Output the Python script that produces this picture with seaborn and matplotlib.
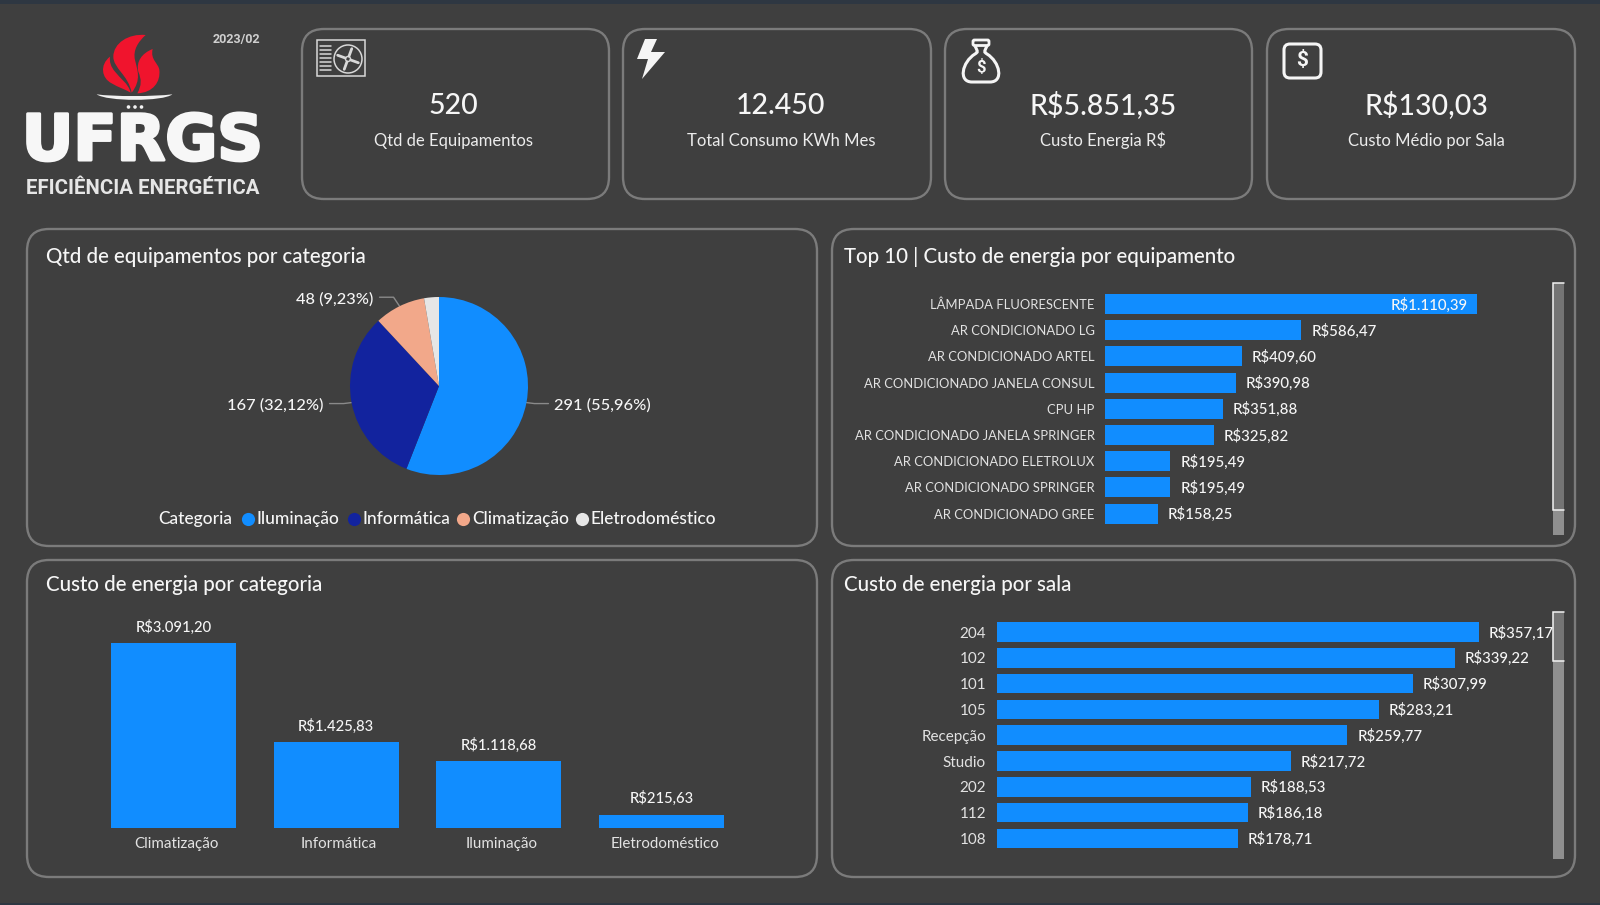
import matplotlib
matplotlib.use("Agg")
import matplotlib.pyplot as plt
import numpy as np
import pandas as pd
import seaborn as sns
import matplotlib.patheffects as pe
from matplotlib.patches import Circle, FancyBboxPatch, PathPatch, Rectangle
from matplotlib.path import Path
from matplotlib.transforms import ScaledTranslation

# dados do painel
kpi_values = ["520", "12.450", "R$5.851,35", "R$130,03"]
kpi_labels = ["Qtd de Equipamentos", "Total Consumo KWh Mes", "Custo Energia R$", "Custo Médio por Sala"]

pie_categories = ["Iluminação", "Informática", "Climatização", "Eletrodoméstico"]
pie_counts = [291, 167, 48, 14]
pie_pct = ["55,96%", "32,12%", "9,23%", "2,69%"]

equip_names = ["LÂMPADA FLUORESCENTE", "AR CONDICIONADO LG", "AR CONDICIONADO ARTEL",
               "AR CONDICIONADO JANELA CONSUL", "CPU HP", "AR CONDICIONADO JANELA SPRINGER",
               "AR CONDICIONADO ELETROLUX", "AR CONDICIONADO SPRINGER", "AR CONDICIONADO GREE"]
equip_cost = [1110.39, 586.47, 409.60, 390.98, 351.88, 325.82, 195.49, 195.49, 158.25]

cat_names = ["Climatização", "Informática", "Iluminação", "Eletrodoméstico"]
cat_cost = [3091.20, 1425.83, 1118.68, 215.63]

room_names = ["204", "102", "101", "105", "Recepção", "Studio", "202", "112", "108"]
room_cost = [357.17, 339.22, 307.99, 283.21, 259.77, 217.72, 188.53, 186.18, 178.71]

BG = "#3f3f3f"
BORDER = "#7b7b7b"
BLUE = "#118dff"
TEXT = "#f6f6f6"
W, H = 1600, 905

sns.set_theme(style="dark")
plt.rcParams["font.family"] = ["Lato", "DejaVu Sans"]


def brl(v):
    s = f"{v:,.2f}".replace(",", "X").replace(".", ",").replace("X", ".")
    return "R$" + s


def axes_px(x0, y0, x1, y1):
    # eixo posicionado em pixels da figura
    a = fig.add_axes([x0 / W, 1 - y1 / H, (x1 - x0) / W, (y1 - y0) / H])
    a.set_facecolor("none")
    for s in a.spines.values():
        s.set_visible(False)
    return a


def card(x0, y0, x1, y1, r=22):
    bg.add_patch(FancyBboxPatch((x0 + r, y0 + r), x1 - x0 - 2 * r, y1 - y0 - 2 * r,
                                boxstyle=f"round,pad={r},rounding_size={r}",
                                fc="none", ec=BORDER, lw=1.7))


def bez(points, fc, ec="none", lw=0, k=3):
    # contorno fechado de curvas cubicas
    verts = [(x / k, y / k) for x, y in points]
    codes = [Path.MOVETO] + [Path.CURVE4] * (len(points) - 1)
    bg.add_patch(PathPatch(Path(verts, codes), fc=fc, ec=ec, lw=lw))


def thumb(x0, y0, x1, y1):
    bg.add_patch(Rectangle((x0, y0), x1 - x0, y1 - y0, fc="#747474", ec="none"))
    bg.plot([x1, x0, x0, x1], [y0, y0, y1, y1], color="#f2f2f2", lw=1.1, solid_joinstyle="miter")


fig = plt.figure(figsize=(W / 100, H / 100), dpi=100, facecolor=BG)
bg = fig.add_axes([0, 0, 1, 1])
bg.set_xlim(0, W)
bg.set_ylim(H, 0)
bg.axis("off")

# faixa do topo
bg.add_patch(Rectangle((0, 0), W, 4, fc="#2e3742", ec="none"))
bg.add_patch(Rectangle((0, 903), W, 2, fc="#2e3742", ec="none"))

# logo
RED = "#f0142d"
bez([(330, 170), (298, 195), (305, 235), (335, 250), (355, 262), (375, 268), (392, 278),
     (385, 250), (360, 235), (345, 215), (332, 200), (328, 185), (330, 170)], RED)
bez([(437, 105), (385, 100), (340, 130), (340, 170), (340, 205), (385, 225), (395, 278),
     (425, 240), (412, 210), (405, 180), (398, 150), (415, 125), (437, 105)], RED)
bez([(458, 147), (425, 160), (408, 185), (415, 215), (425, 240), (425, 255), (412, 280),
     (460, 278), (482, 245), (478, 210), (476, 190), (450, 180), (458, 147)], RED)
bez([(290, 283), (340, 290), (460, 290), (517, 283), (490, 305), (320, 305), (290, 283)], "#f2f2f2")
for cx in (128.5, 135, 141.5):
    bg.add_patch(Circle((cx, 107), 1.8, fc="#f2f2f2", ec="none"))
bg.text(142.5, 143, "UFRGS", color="#f7f7f7", fontsize=45.6, fontweight="bold",
        family=["DejaVu Sans"], ha="center", va="center",
        path_effects=[pe.withStroke(linewidth=2.2, foreground="#f7f7f7")])
bg.text(142.5, 188, "EFICIÊNCIA ENERGÉTICA", color="#e6e6e6", fontsize=14.7, fontweight="bold",
        family=["Roboto", "DejaVu Sans"], ha="center", va="center")
bg.text(236.5, 39, "2023/02", color="#cfcfcf", fontsize=9, fontweight="bold",
        family=["Roboto", "DejaVu Sans"], ha="center", va="center")

# cards de cima
card_x = [(302, 609), (623, 931), (945, 1252), (1267, 1575)]
card_cx = [453, 781, 1103, 1426.5]
for (x0, x1), cx, v, l in zip(card_x, card_cx, kpi_values, kpi_labels):
    card(x0, 29, x1, 199)
    bg.text(cx, 114, v, color=TEXT, fontsize=20.5, ha="center", va="baseline", fontweight="medium")
    bg.text(cx, 146, l, color="#ececec", fontsize=12, ha="center", va="baseline")

# icone ar condicionado
ICON = "#d8d8d8"
bg.add_patch(Rectangle((317, 40.5), 48, 36, fc="none", ec=ICON, lw=1.1))
bg.add_patch(Circle((348, 59), 14, fc="none", ec=ICON, lw=1.1))
bg.add_patch(Circle((348, 59), 2.5, fc="none", ec=ICON, lw=1))
for ang in (20, 110, 200, 290):
    t = np.deg2rad(ang)
    bg.plot([348 + 3 * np.cos(t), 348 + 11 * np.cos(t)], [59 + 3 * np.sin(t), 59 + 11 * np.sin(t)],
            color=ICON, lw=2, solid_capstyle="round")
for yy in (46, 50, 54, 58, 62, 66, 70):
    bg.plot([320, 331], [yy, yy], color=ICON, lw=1.1)
# raio
bg.add_patch(plt.Polygon([(645, 39), (657, 39), (651, 52), (665, 52), (642, 79), (648, 59), (637, 59)],
                         fc="#f5f5f5", ec="none"))
# saco de dinheiro
bg.add_patch(FancyBboxPatch((973, 40), 16, 5.5, boxstyle="round,pad=0,rounding_size=1.5", fc="none",
                            ec="#f5f5f5", lw=2))
bez([(975, 46), (978, 52), (978, 52), (975, 54), (962, 62), (958, 82), (972, 82), (976, 82), (986, 82), (990, 82),
     (1004, 82), (1000, 62), (987, 54), (984, 52), (984, 52), (987, 46)], "none", "#f5f5f5", 2.2, 1)
bg.text(981, 67, "$", color="#f5f5f5", fontsize=12, fontweight="bold", ha="center", va="center",
        family=["Roboto", "DejaVu Sans"])
# cifrao
bg.add_patch(FancyBboxPatch((1284, 44), 37, 34, boxstyle="round,pad=0,rounding_size=6", fc="none",
                            ec="#f5f5f5", lw=2.2))
bg.text(1302.5, 60.5, "$", color="#f5f5f5", fontsize=15, fontweight="bold", ha="center", va="center",
        family=["Roboto", "DejaVu Sans"])

# paineis
card(27, 229, 817, 546)
card(832, 229, 1575, 546)
card(27, 560, 817, 877)
card(832, 560, 1575, 877)
titles = [(46, 257, "Qtd de equipamentos por categoria"), (844, 257, "Top 10 | Custo de energia por equipamento"),
          (46, 585, "Custo de energia por categoria"), (844, 585, "Custo de energia por sala")]
for x, y, t in titles:
    bg.text(x, y, t, color=TEXT, fontsize=14.8, ha="left", va="center", fontweight="medium")

# pizza
pie_colors = [BLUE, "#12239e", "#f2a88a", "#e6e6e6"]
pie_cx, pie_cy, pie_r = 439, 386, 89
ax_pie = axes_px(pie_cx - pie_r, pie_cy - pie_r, pie_cx + pie_r, pie_cy + pie_r)
wedges, _ = ax_pie.pie(pie_counts, colors=pie_colors, startangle=90, counterclock=False, radius=1,
                       wedgeprops=dict(linewidth=0))
ax_pie.set_xlim(-1, 1)
ax_pie.set_ylim(-1, 1)
for w, n, p in zip(wedges[:3], pie_counts, pie_pct):
    t = np.deg2rad((w.theta1 + w.theta2) / 2)
    ex, ey = pie_cx + pie_r * np.cos(t), pie_cy - pie_r * np.sin(t)
    side = 1 if np.cos(t) > 0 else -1
    if n == 48:
        elbow = (ex - 6, ey - 9)
    else:
        elbow = (ex + side * 8, ey + 1)
    end = (elbow[0] + side * 14, elbow[1])
    bg.plot([ex, elbow[0], end[0]], [ey, elbow[1], end[1]], color="#8a8a8a", lw=1, zorder=3)
    bg.text(end[0] + side * 6, end[1] + 2, f"{n} ({p})", color=TEXT, fontsize=11.8,
            ha="left" if side > 0 else "right", va="center", fontweight="medium")

# legenda da pizza
bg.text(158, 524, "Categoria", color=TEXT, fontsize=12.5, ha="left", va="baseline", fontweight="medium")
legend_dot_x = [248, 354, 463, 582]
for dx, c, name in zip(legend_dot_x, pie_colors, pie_categories):
    bg.scatter([dx], [518.5], s=90, color=c, linewidths=0)
    bg.text(dx + 9, 524, name, color=TEXT, fontsize=12.5, ha="left", va="baseline", fontweight="medium")


def hbars(names, values, x0, x1, y_first, step, tick_size, inside_first=False):
    n = len(values)
    a = axes_px(x0, y_first - step / 2, x1, y_first + step * (n - 0.5))
    df = pd.DataFrame({"nome": names, "valor": values})
    sns.barplot(data=df, y="nome", x="valor", color=BLUE, saturation=1, width=0.76, linewidth=0, ax=a)
    a.set_xlim(0, max(values))
    a.set_ylim(n - 0.5, -0.5)
    a.set_xlabel("")
    a.set_ylabel("")
    a.set_xticks([])
    a.tick_params(axis="y", length=0, pad=7.5, labelsize=tick_size, labelcolor="#e2e2e2")
    labels = [brl(v) for v in values]
    texts = a.bar_label(a.containers[0], labels=labels, padding=7, color=TEXT, fontsize=10.8, fontweight="medium")
    for txt in texts:
        txt.xyann = (txt.xyann[0], -0.7)
    if inside_first:
        # rotulo da primeira barra fica dentro
        texts[0].set_ha("right")
        texts[0].xyann = (-7, -0.7)
    return a


hbars(equip_names, equip_cost, 1105, 1477, 304, 26.2, 9.4, inside_first=True)
hbars(room_names, room_cost, 996.5, 1479, 632, 25.8, 11)

# colunas
ax_col = axes_px(92, 643, 743, 827.5)
df_cat = pd.DataFrame({"categoria": cat_names, "custo": cat_cost})
sns.barplot(data=df_cat, x="categoria", y="custo", color=BLUE, saturation=1, width=0.768, linewidth=0, ax=ax_col)
ax_col.set_ylim(0, max(cat_cost))
ax_col.set_xlim(-0.5, 3.5)
ax_col.set_xlabel("")
ax_col.set_ylabel("")
ax_col.set_yticks([])
ax_col.tick_params(axis="x", length=0, pad=7, labelsize=10.9, labelcolor="#e2e2e2")
offset = ScaledTranslation(3 / 100, 0, fig.dpi_scale_trans)
for lab in ax_col.get_xticklabels():
    lab.set_transform(lab.get_transform() + offset)
ax_col.bar_label(ax_col.containers[0], labels=[brl(v) for v in cat_cost], padding=6, color=TEXT, fontsize=10.6,
                 fontweight="medium")

# barras de rolagem
bg.add_patch(Rectangle((1553, 283), 11, 252, fc="#8f8f8f", ec="none"))
thumb(1553, 283, 1564, 510)
bg.add_patch(Rectangle((1553, 612), 11, 247, fc="#8f8f8f", ec="none"))
thumb(1553, 612, 1564, 661)

fig.savefig("out.png", dpi=100, facecolor=BG)
